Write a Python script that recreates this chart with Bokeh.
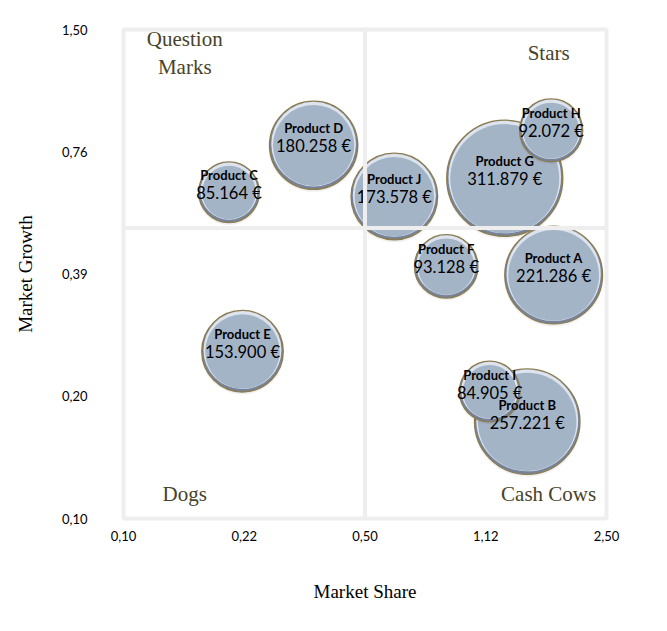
import math
from bokeh.plotting import figure
from bokeh.models import ColumnDataSource, Range1d, FixedTicker, CustomJSTickFormatter, Span, Label
from bokeh.core.properties import value
from bokeh.embed import file_html
from bokeh.resources import INLINE

# ---------------- data ----------------
products = ["Product A", "Product B", "Product C", "Product D", "Product E",
            "Product F", "Product G", "Product H", "Product I", "Product J"]
market_share = [1.758, 1.474, 0.202, 0.355, 0.221, 0.859, 1.269, 1.729, 1.148, 0.608]
market_growth = [0.385, 0.171, 0.609, 0.790, 0.2525, 0.404, 0.658, 0.858, 0.202, 0.595]
revenue = [221286, 257221, 85164, 180258, 153900, 93128, 311879, 92072, 84905, 173578]

x_ticks = [0.10, 0.2236, 0.50, 1.118, 2.50]
y_ticks = [0.10, 0.1968, 0.3873, 0.7622, 1.50]
x_divider = 0.5
y_divider = 0.5

quadrants = ["Question\nMarks", "Stars", "Dogs", "Cash Cows"]

# ---------------- layout ----------------
W, H = 667, 631
left, right, top, bottom = 123, 61, 29, 113
frame_h = H - top - bottom
px_per_dec_y = frame_h / math.log10(y_ticks[-1] / y_ticks[0])
k_diam = 0.2078  # px diameter per sqrt(revenue)


def yshift(y, px):
    # shift a y value by px screen pixels (positive = up) on the log axis
    return y * 10 ** (px / px_per_dec_y)


p = figure(width=W, height=H, x_axis_type="log", y_axis_type="log",
           x_range=Range1d(x_ticks[0], x_ticks[-1]), y_range=Range1d(y_ticks[0], y_ticks[-1]),
           output_backend="svg", toolbar_location=None,
           min_border_left=left, min_border_right=right, min_border_top=top, min_border_bottom=bottom)
p.background_fill_color = "white"
p.border_fill_color = "white"
p.outline_line_color = "#eeeeee"
p.outline_line_width = 4
p.xgrid.visible = False
p.ygrid.visible = False

fmt = CustomJSTickFormatter(code="return tick.toFixed(2).replace('.', ',');")
for ax, ticks in ((p.xaxis[0], x_ticks), (p.yaxis[0], y_ticks)):
    ax.ticker = FixedTicker(ticks=ticks)
    ax.formatter = fmt
    ax.axis_line_color = None
    ax.major_tick_line_color = None
    ax.minor_tick_line_color = None
    ax.major_tick_out = 0
    ax.major_tick_in = 0
    ax.minor_tick_out = 0
    ax.major_label_text_font = "Lato"
    ax.major_label_text_font_size = "13px"
    ax.major_label_text_color = "#000000"
    ax.axis_label_text_font = "Liberation Serif"
    ax.axis_label_text_font_size = "19px"
    ax.axis_label_text_font_style = "normal"
    ax.axis_label_text_color = "#000000"

p.xaxis.axis_label = "Market Share"
p.xaxis.major_label_standoff = 12
p.xaxis.axis_label_standoff = 37
p.yaxis.axis_label = "Market Growth"
p.yaxis.major_label_standoff = 36
p.yaxis.axis_label_standoff = 23

# quadrant dividers
p.add_layout(Span(location=x_divider, dimension="height", line_color="#eeeeee", line_width=4))
p.add_layout(Span(location=y_divider, dimension="width", line_color="#eeeeee", line_width=4))

# quadrant labels
q_pos = [(0.1504, 1.317), (1.70, 1.314), (0.1504, 0.1144), (1.70, 0.1144)]
for name, (qx, qy) in zip(quadrants, q_pos):
    p.add_layout(Label(x=qx, y=qy, text=name, text_font="Liberation Serif", text_font_size="21px",
                       text_color="#48432a", text_align="center", text_baseline="middle",
                       text_line_height=1.15))

# bubbles: biggest first so smaller ones are on top
order = sorted(range(len(products)), key=lambda i: -revenue[i])
for i in order:
    x = market_share[i]
    y = market_growth[i]
    d = k_diam * math.sqrt(revenue[i])
    # soft shadow
    p.scatter([x], [yshift(y, -1.5)], size=d + 2, fill_color="#000000", fill_alpha=0.06, line_color=None)
    # dark rim
    p.scatter([x], [y], size=d, fill_color="#76839a", line_color="#8c7b4c", line_width=1.3)
    # highlight
    p.scatter([x], [yshift(y, 1.2)], size=d - 3.5, fill_color="#dde4ed", line_color=None)
    # body
    p.scatter([x], [yshift(y, -0.3)], size=d - 7, fill_color="#a4b4c7", line_color=None)

labels = [f"{v:,}".replace(",", ".") + " €" for v in revenue]
src = ColumnDataSource(dict(x=market_share, y=market_growth, name=products, val=labels))
p.text(x="x", y="y", text="name", source=src, text_font=value("Lato"), text_font_style="bold",
       text_font_size="13px", text_color="#000000", text_align="center", text_baseline="middle",
       y_offset=-17)
p.text(x="x", y="y", text="val", source=src, text_font=value("Lato"),
       text_font_size="16.5px", text_color="#000000", text_align="center", text_baseline="middle",
       y_offset=1)

open("out.html", "w").write(file_html(p, INLINE))
